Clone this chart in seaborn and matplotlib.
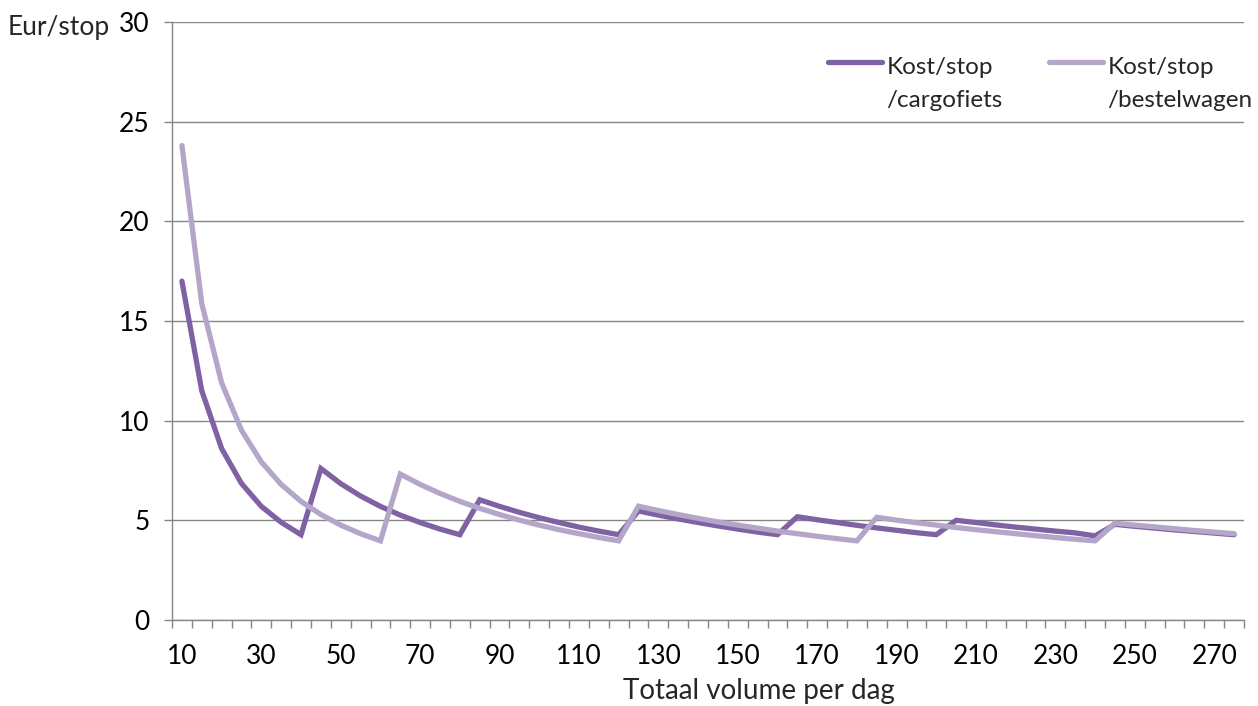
import pandas as pd
import seaborn as sns
import matplotlib.pyplot as plt

# volume per day (categories on the x axis)
volume = list(range(10, 280, 5))

# cost per stop
kost_cargofiets = [17.0, 11.5, 8.6, 6.85, 5.7, 4.9, 4.28,
                   7.6, 6.84, 6.22, 5.7, 5.26, 4.89, 4.56, 4.28,
                   6.03, 5.7, 5.4, 5.13, 4.89, 4.66, 4.46, 4.28,
                   5.47, 5.26, 5.07, 4.89, 4.72, 4.56, 4.41, 4.28,
                   5.18, 5.03, 4.89, 4.75, 4.62, 4.5, 4.38, 4.28,
                   5.0, 4.89, 4.77, 4.66, 4.56, 4.46, 4.37, 4.22,
                   4.8, 4.7, 4.61, 4.52, 4.44, 4.36, 4.28]
kost_bestelwagen = [23.8, 15.87, 11.9, 9.52, 7.93, 6.8, 5.95, 5.29, 4.76, 4.33, 3.97,
                    7.32, 6.8, 6.35, 5.95, 5.6, 5.29, 5.01, 4.76, 4.53, 4.33, 4.14, 3.97,
                    5.71, 5.49, 5.29, 5.1, 4.92, 4.76, 4.61, 4.46, 4.33, 4.2, 4.08, 3.97,
                    5.15, 5.01, 4.88, 4.76, 4.64, 4.53, 4.43, 4.33, 4.23, 4.14, 4.05, 3.97,
                    4.86, 4.76, 4.67, 4.58, 4.49, 4.41, 4.33]

labels = ["Kost/stop\n/cargofiets", "Kost/stop\n/bestelwagen"]
colors = ["#7f62a3", "#b3a6c8"]

df = pd.concat([
    pd.DataFrame({"volume": volume, "kost": kost_cargofiets, "serie": labels[0]}),
    pd.DataFrame({"volume": volume, "kost": kost_bestelwagen, "serie": labels[1]}),
])

sns.set_style("white")
plt.rcParams["font.family"] = ["Lato", "DejaVu Sans"]
fs = 19

fig = plt.figure(figsize=(12.58, 7.06), dpi=100)
ax = fig.add_axes([172 / 1258, 1 - 620 / 706, 1072 / 1258, 598 / 706])

sns.lineplot(data=df, x="volume", y="kost", hue="serie", palette=colors,
             linewidth=3.8, ax=ax, solid_capstyle="round", solid_joinstyle="miter")

ax.set_xlim(7.5, 277.5)
ax.set_ylim(0, 30)
ax.set_yticks(range(0, 31, 5))
ax.set_xticks(volume[::4])
ax.set_xticks([v - 2.5 for v in volume] + [volume[-1] + 2.5], minor=True)
ax.tick_params(axis="x", which="major", bottom=True, length=0, pad=17, labelsize=fs,
               colors="black")
ax.tick_params(axis="x", which="minor", bottom=True, length=6, width=1, color="#868686",
               direction="out")
ax.tick_params(axis="y", left=True, length=6, width=1, color="#868686", direction="out",
               pad=10, labelsize=fs, labelcolor="black")
ax.grid(axis="y", color="#868686", linewidth=1)
ax.set_axisbelow(True)

for s in ["top", "right"]:
    ax.spines[s].set_visible(False)
for s in ["left", "bottom"]:
    ax.spines[s].set_color("#868686")
    ax.spines[s].set_linewidth(1)

ax.set_ylabel("")
ax.set_xlabel("Totaal volume per dag", fontsize=20, va="center")
ax.xaxis.set_label_coords(0.547, -0.118)

fig.text(8 / 1258, 1 - 28 / 706, "Eur/stop", fontsize=fs, va="center", ha="left")

leg = ax.legend(ncol=2, frameon=False, fontsize=17.5, loc="upper right",
                bbox_to_anchor=(1.017, 1.001), handlelength=2.2, handleheight=6.8,
                handletextpad=0.2, columnspacing=1.9, borderaxespad=0)
for t in leg.get_texts():
    t.set_linespacing(1.7)
for h in leg.get_lines():
    h.set_linewidth(3.8)
    h.set_solid_capstyle("round")

fig.savefig("out.png", dpi=100)
